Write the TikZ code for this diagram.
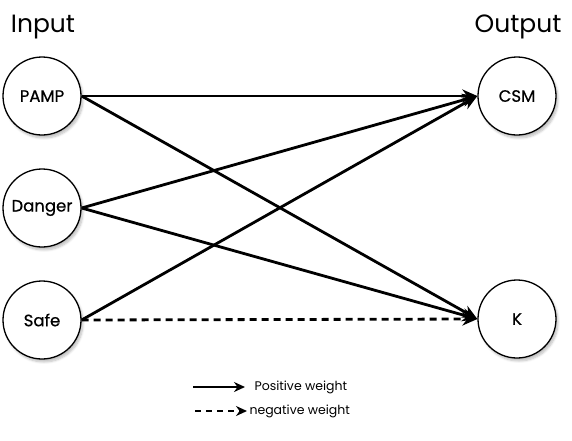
\documentclass[tikz,border=0pt]{standalone}
\usepackage{fontspec}
\setmainfont{Poppins}
\newfontfamily\labelfont{Poppins}[FakeBold=0.6]
\usetikzlibrary{arrows.meta,shadows.blur}
\begin{document}
\begin{tikzpicture}[x=1pt,y=-1pt,
  neuron/.style={circle,draw=black,line width=1.3pt,minimum size=78pt,inner sep=0pt,fill=white,
    blur shadow={shadow xshift=2pt,shadow yshift=-3pt,shadow blur steps=6,shadow opacity=25},
    font=\labelfont\fontsize{16.5}{18}\selectfont},
  title/.style={font=\fontsize{25}{30}\selectfont},
  conn/.style={line width=2.8pt,-{Stealth[length=15pt,width=13pt]}},
  negconn/.style={conn,dash pattern=on 7pt off 5pt},
  legtext/.style={font=\fontsize{12.5}{14}\selectfont,anchor=west}]
\useasboundingbox (0,0) rectangle (572,440);
\node[title] (in) at (43,27) {Input};
\node[title] (out) at (518,27) {Output};
\node[neuron] (pamp) at (42,96) {PAMP};
\node[neuron] (danger) at (42,208) {Danger};
\node[neuron] (safe) at (42,320) {Safe};
\node[neuron] (csm) at (517,96) {CSM};
\node[neuron] (k) at (517,319) {K};
\draw[conn] (pamp.east) -- (csm.west);
\draw[conn] (pamp.east) -- (k.west);
\draw[conn] (danger.east) -- (csm.west);
\draw[conn] (danger.east) -- (k.west);
\draw[conn] (safe.east) -- (csm.west);
\draw[negconn] (safe.east) -- (k.west);
\coordinate (l1a) at (193,387);
\coordinate (l1b) at (245,387);
\coordinate (l2a) at (195,411);
\coordinate (l2b) at (247,411);
\draw[line width=2.4pt,-{Stealth[length=11pt,width=10pt]}] (l1a) -- (l1b);
\draw[line width=2.4pt,dash pattern=on 6pt off 5pt,-{Stealth[length=11pt,width=10pt]}] (l2a) -- (l2b);
\node[legtext] (pos) at (251,387) {Positive weight};
\node[legtext] (neg) at (246,411) {negative weight};
\end{tikzpicture}
\end{document}
